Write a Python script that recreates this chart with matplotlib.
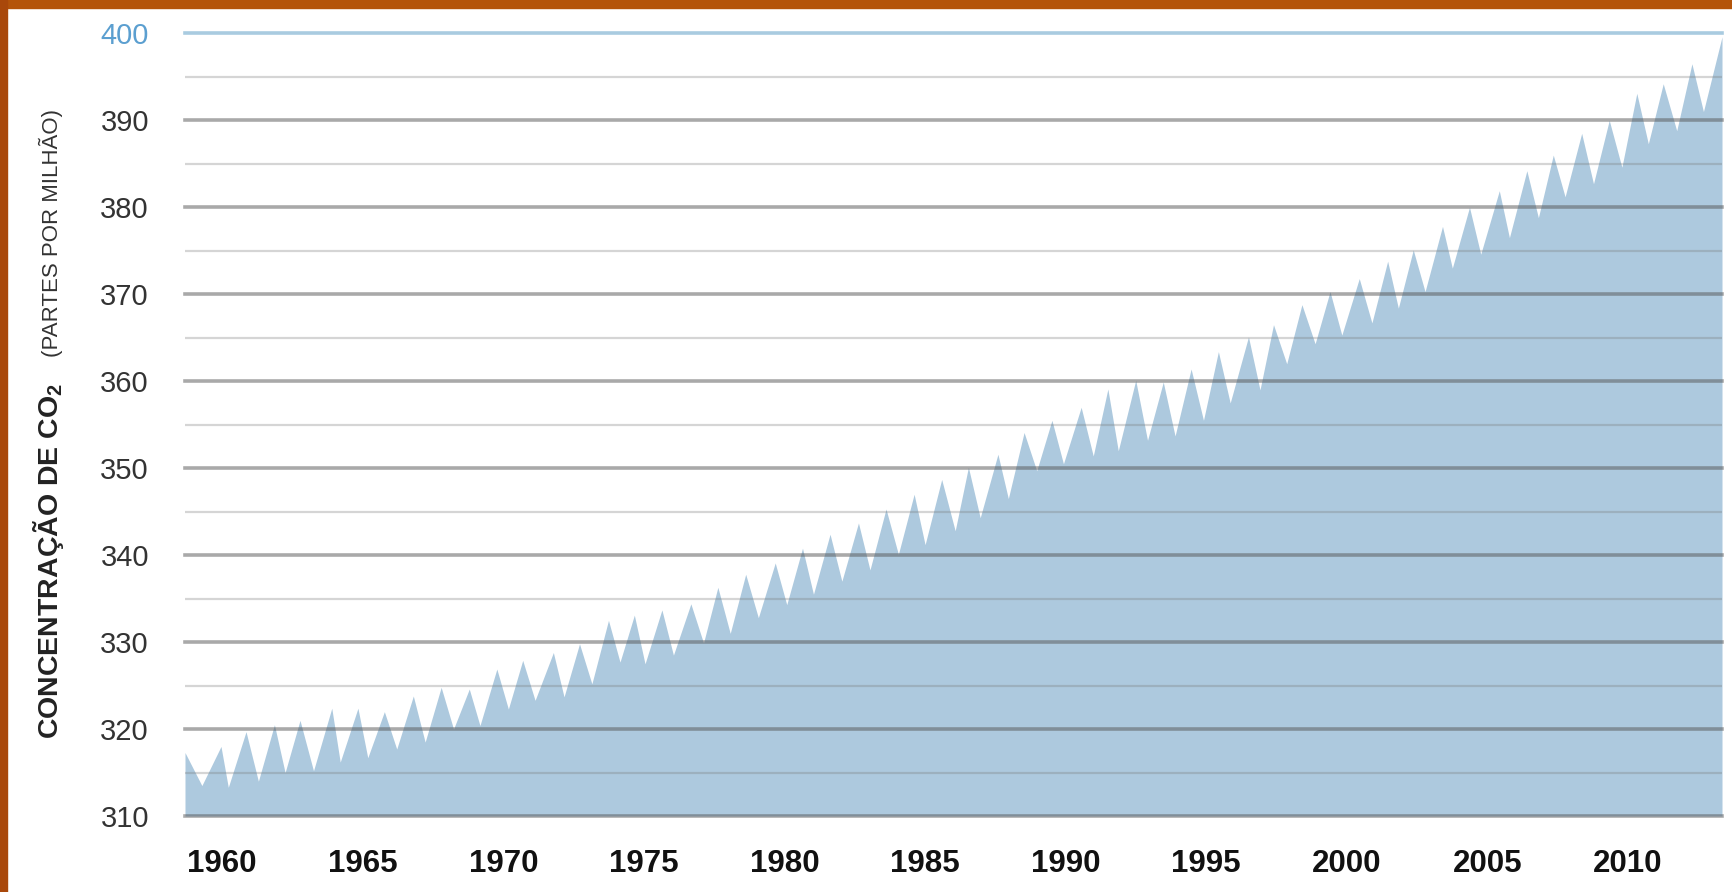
import numpy as np
import matplotlib.pyplot as plt
from matplotlib import font_manager
from matplotlib.patches import Rectangle

# CO2 concentration (ppm), yearly highs and lows
peak_years = [1959.96, 1960.85, 1961.86, 1962.77, 1963.90, 1964.83, 1965.77,
              1966.80, 1967.79, 1968.79, 1969.77, 1970.69, 1971.78, 1972.71,
              1973.74, 1974.66, 1975.64, 1976.67, 1977.63, 1978.62, 1979.67,
              1980.64, 1981.62, 1982.63, 1983.61, 1984.61, 1985.59, 1986.54,
              1987.59, 1988.52, 1989.51, 1990.55, 1991.50, 1992.49, 1993.47,
              1994.46, 1995.43, 1996.50, 1997.39, 1998.40, 1999.40, 2000.44,
              2001.45, 2002.36, 2003.40, 2004.36, 2005.42, 2006.40, 2007.34,
              2008.35, 2009.33, 2010.31, 2011.25, 2012.27]
peak_ppm = [318.0, 319.7, 320.5, 321.0, 322.4, 322.4, 322.0, 323.8, 324.8,
            324.6, 326.9, 327.9, 328.8, 329.8, 332.5, 333.1, 333.7, 334.4,
            336.3, 337.8, 339.1, 340.8, 342.4, 343.7, 345.3, 347.0, 348.7,
            350.1, 351.6, 354.1, 355.5, 357.0, 359.1, 360.1, 359.9, 361.4,
            363.4, 365.1, 366.5, 368.8, 370.3, 371.8, 373.8, 375.1, 377.8,
            380.0, 381.9, 384.2, 386.0, 388.5, 390.0, 393.1, 394.2, 396.5]

trough_years = [1959.28, 1960.22, 1961.29, 1962.24, 1963.25, 1964.20, 1965.18,
                1966.21, 1967.22, 1968.23, 1969.17, 1970.18, 1971.13, 1972.16,
                1973.15, 1974.15, 1975.04, 1976.05, 1977.12, 1978.07, 1979.07,
                1980.08, 1981.03, 1982.04, 1983.04, 1984.05, 1985.00, 1986.07,
                1986.96, 1987.96, 1988.97, 1989.92, 1990.98, 1991.87, 1992.91,
                1993.89, 1994.90, 1995.85, 1996.91, 1997.86, 1998.87, 1999.82,
                2000.89, 2001.83, 2002.78, 2003.75, 2004.76, 2005.78, 2006.81,
                2007.76, 2008.77, 2009.78, 2010.72, 2011.73, 2012.68]
trough_ppm = [313.5, 313.3, 314.0, 315.0, 315.2, 316.2, 316.7, 317.7, 318.5,
              320.0, 320.4, 322.3, 323.3, 323.7, 325.2, 327.7, 327.5, 328.5,
              329.9, 331.0, 332.8, 334.3, 335.5, 337.0, 338.3, 340.1, 341.2,
              342.8, 344.3, 346.5, 349.7, 350.5, 351.4, 352.0, 353.2, 353.7,
              355.5, 357.5, 359.0, 362.0, 364.3, 365.3, 366.7, 368.4, 370.3,
              373.0, 374.6, 376.5, 378.8, 381.2, 382.7, 384.6, 387.3, 388.8,
              391.0]

# values where the curve meets the left and right edges
edge_years = [1958.68, 2013.34]
edge_ppm = [317.3, 399.6]

year_ticks = [1960, 1965, 1970, 1975, 1980, 1985, 1990, 1995, 2000, 2005, 2010]
ppm_ticks = [310, 320, 330, 340, 350, 360, 370, 380, 390, 400]
ppm_minor = [315, 325, 335, 345, 355, 365, 375, 385, 395]

# pick a condensed face if there is one
names = {f.name for f in font_manager.fontManager.ttflist}
narrow = 'Liberation Sans Narrow' in names
label_font = 'Liberation Sans Narrow' if narrow else 'Liberation Sans'
plt.rcParams['mathtext.fontset'] = 'custom'
plt.rcParams['mathtext.rm'] = label_font + ':bold'
plt.rcParams['mathtext.bf'] = label_font + ':bold'

x = np.concatenate([peak_years, trough_years, edge_years])
y = np.concatenate([peak_ppm, trough_ppm, edge_ppm])
order = np.argsort(x)
x, y = x[order], y[order]

fig = plt.figure(figsize=(17.32, 8.92), dpi=100)
fig.patch.set_facecolor('white')
ax = fig.add_axes([185 / 1732, 76 / 892, 1537 / 1732, 782.7 / 892])

ax.fill_between(x, 310, y, color='#adc9de', linewidth=0, zorder=1)

for v in ppm_minor:
    ax.axhline(v, color='#777777', alpha=0.3, lw=1.6, zorder=2)
for v in ppm_ticks[:-1]:
    ax.axhline(v, color='#555555', alpha=0.5, lw=2.6, zorder=3, clip_on=False)
ax.axhline(400, color='#a9cbe0', lw=2.6, zorder=3, clip_on=False)

ax.set_xlim(edge_years[0], edge_years[1])
ax.set_ylim(310, 400)
for s in ax.spines.values():
    s.set_visible(False)

ax.set_xticks(year_ticks)
ax.set_xticklabels([str(t) for t in year_ticks], fontsize=22.5,
                   fontweight='bold', family='Liberation Sans', color='#111111')
ax.set_yticks(ppm_ticks)
ax.set_yticklabels([str(t) for t in ppm_ticks], fontsize=21,
                   family='Liberation Sans', color='#333333')
ax.yaxis.get_ticklabels()[-1].set_color('#5b9fd0')
ax.tick_params(axis='x', length=0, pad=24)
ax.tick_params(axis='y', length=0, pad=26)

# rotated axis title, two parts
main_size = 25 if narrow else 20.5
sub_size = 20 if narrow else 16
fig.text(58 / 1732, 1 - 561 / 892, 'CONCENTRAÇÃO DE CO$_2$', rotation=90,
         rotation_mode='anchor', ha='center', va='baseline',
         fontsize=main_size, fontweight='bold', family=label_font,
         color='#222222')
fig.text(58 / 1732, 1 - 233 / 892, '(PARTES POR MILHÃO)', rotation=90,
         rotation_mode='anchor', ha='center', va='baseline',
         fontsize=sub_size, family=label_font, color='#333333')

# orange frame at top and left
fig.patches.append(Rectangle((0, 1 - 8 / 892), 1, 8 / 892,
                             transform=fig.transFigure, color='#b4540a'))
fig.patches.append(Rectangle((0, 0), 7 / 1732, 1,
                             transform=fig.transFigure, color='#a9480a'))

fig.savefig('out.png', dpi=100)
